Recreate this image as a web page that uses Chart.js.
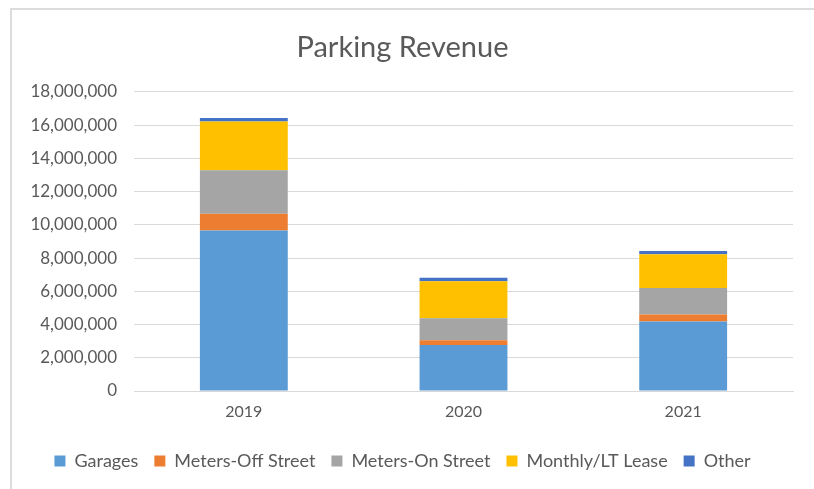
<!DOCTYPE html>
<html>
<head>
<meta charset="utf-8">
<script src="https://cdn.jsdelivr.net/npm/chart.js@4"></script>
<style>
  html, body { margin: 0; padding: 0; background: #fff; }
  #frame {
    position: absolute; left: 10px; top: 8px; width: 810px; height: 490px;
    border-top: 2px solid #dcdcdc; border-left: 2px solid #dcdcdc;
  }
  #wrap { position: absolute; left: 12px; top: 10px; width: 802px; height: 479px; }
</style>
</head>
<body>
<div id="frame"></div>
<div id="wrap"><canvas id="chart"></canvas></div>
<script>
const years = ['2019', '2020', '2021'];
const garages = [9660000, 2760000, 4180000];
const metersOff = [1000000, 300000, 420000];
const metersOn = [2620000, 1320000, 1600000];
const monthly = [2940000, 2220000, 2020000];
const other = [200000, 220000, 200000];
const yTicks = [0, 2000000, 4000000, 6000000, 8000000, 10000000, 12000000, 14000000, 16000000, 18000000];

const textColor = '#595959';
const fontFamily = 'Lato, "Open Sans", sans-serif';

function series(label, data, color) {
  return { label: label, data: data, backgroundColor: color, borderWidth: 0 };
}

const ctx = document.getElementById('chart').getContext('2d');
new Chart(ctx, {
  type: 'bar',
  data: {
    labels: years,
    datasets: [
      series('Garages', garages, '#5b9bd5'),
      series('Meters-Off Street', metersOff, '#ed7d31'),
      series('Meters-On Street', metersOn, '#a5a5a5'),
      series('Monthly/LT Lease', monthly, '#ffc000'),
      series('Other', other, '#4472c4')
    ]
  },
  options: {
    responsive: true,
    maintainAspectRatio: false,
    animation: false,
    datasets: { bar: { categoryPercentage: 1, barPercentage: 0.4 } },
    layout: { padding: { top: 20, left: 0, right: 21, bottom: 9 } },
    plugins: {
      title: {
        display: true,
        text: 'Parking Revenue',
        color: textColor,
        font: { family: fontFamily, size: 29, weight: 'normal' },
        padding: { top: 0, bottom: 27 }
      },
      legend: {
        position: 'bottom',
        labels: {
          color: textColor,
          font: { family: fontFamily, size: 18 },
          boxWidth: 11,
          boxHeight: 11,
          padding: 16
        }
      },
      tooltip: { enabled: false }
    },
    scales: {
      x: {
        stacked: true,
        grid: { display: false },
        border: { color: '#d9d9d9' },
        afterFit: function (scale) { scale.height = 45; },
        ticks: { color: textColor, font: { family: fontFamily, size: 16 }, padding: 3 }
      },
      y: {
        stacked: true,
        min: 0,
        max: 18000000,
        afterBuildTicks: function (scale) {
          scale.ticks = yTicks.map(v => ({ value: v }));
        },
        afterFit: function (scale) { scale.width = 122; },
        grid: { color: '#d9d9d9', drawTicks: false },
        border: { display: false },
        ticks: {
          color: textColor,
          font: { family: fontFamily, size: 17 },
          padding: 17,
          callback: v => v.toLocaleString('en-US')
        }
      }
    }
  }
});
</script>
</body>
</html>
